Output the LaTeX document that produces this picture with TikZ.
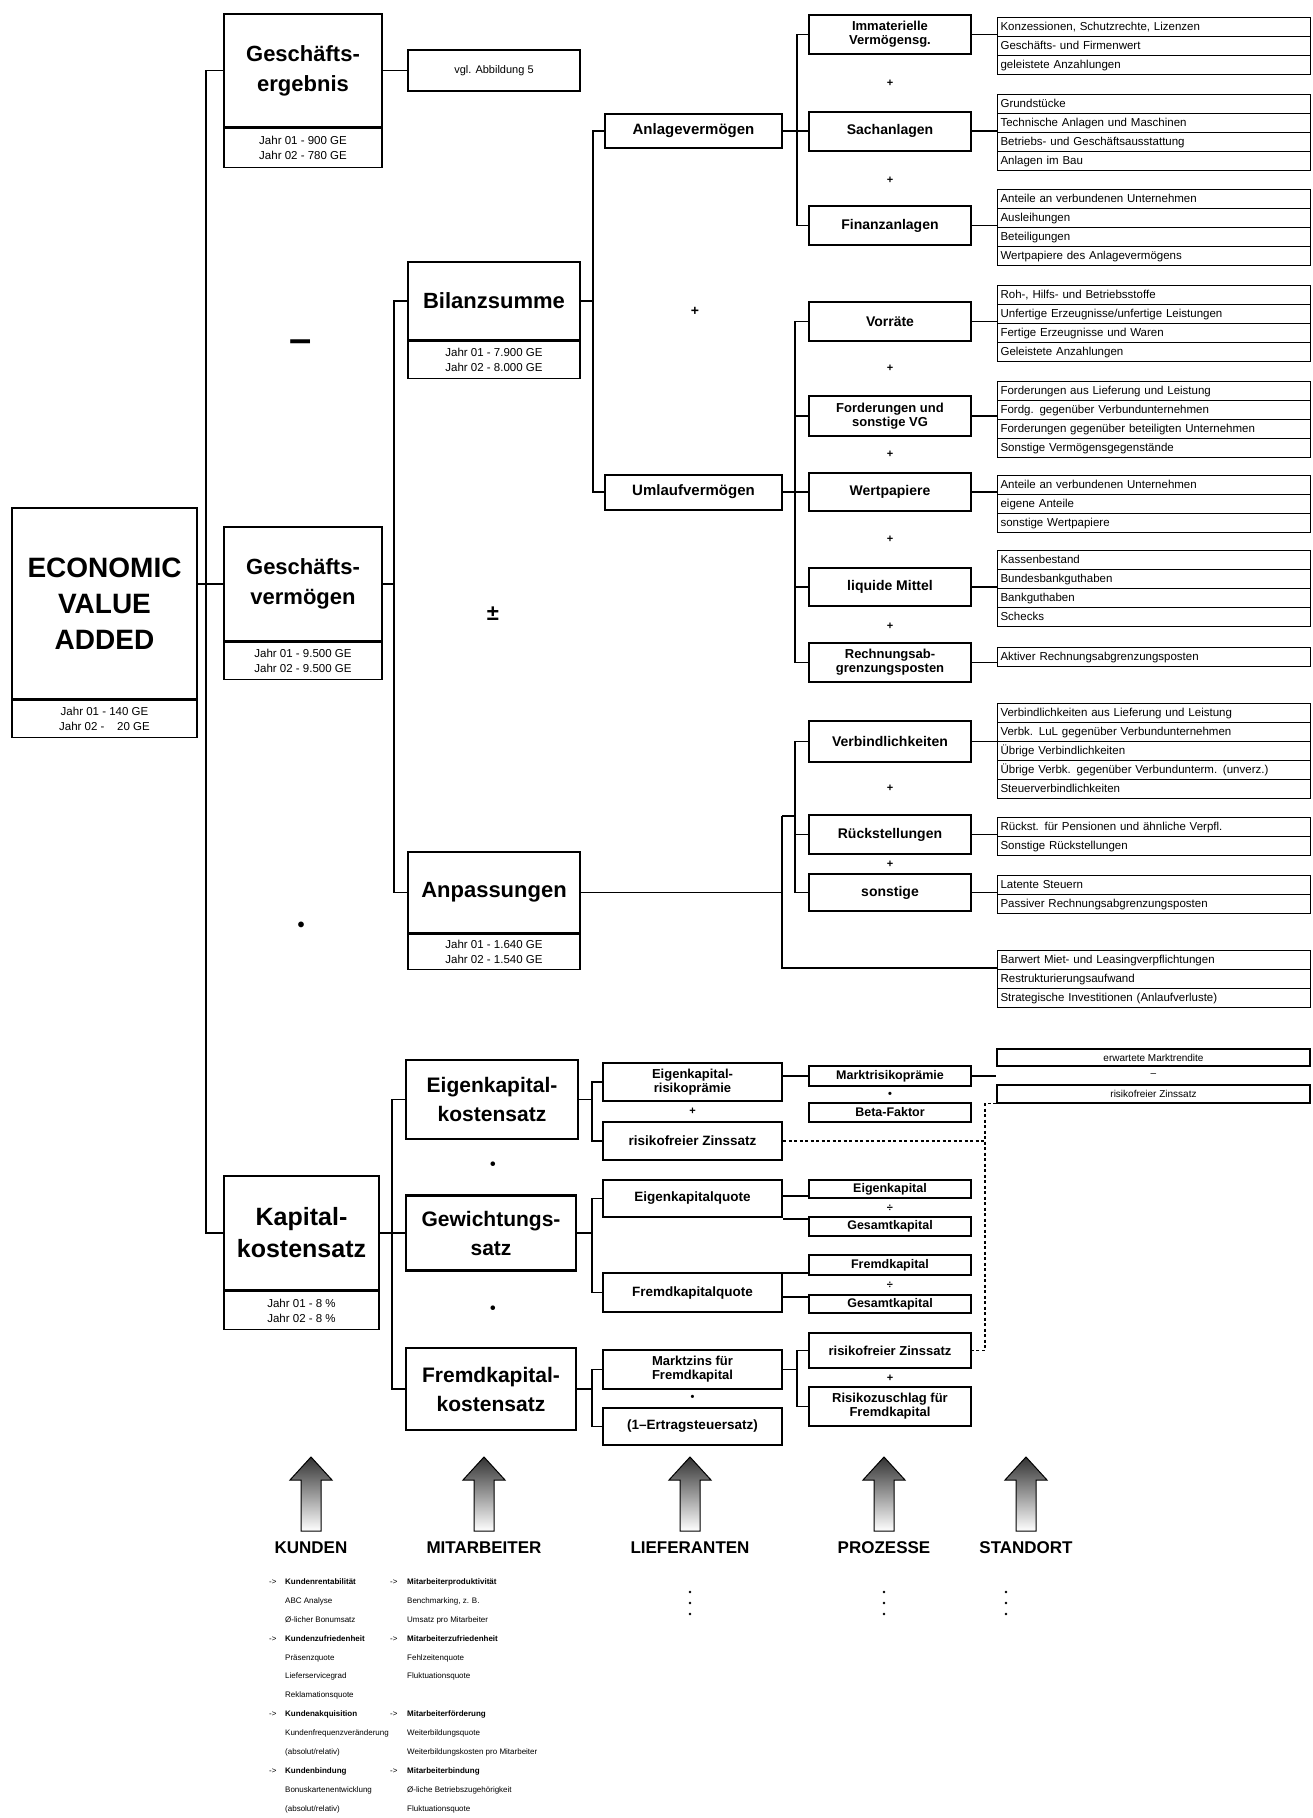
\documentclass[tikz,border=0pt]{standalone}
\usepackage{fontspec}
\setmainfont{Liberation Sans}
\newcommand\rowlist[4]{%
  \foreach \lbl [count=\rk] in {#4}{\node[lrow] (#1-\rk) at (#2,{#3+(\rk-1)*19}) {\lbl};}}
\begin{document}
\begin{tikzpicture}[x=1pt,y=-1pt,
  conn/.style={line width=1.3pt},
  bigbox/.style={draw, line width=2.2pt, align=center, inner sep=2pt, font=\bfseries\fontsize{22}{30}\selectfont},
  valbox/.style={draw, line width=1.2pt, align=center, inner sep=0pt, anchor=north, font=\fontsize{11.5}{15}\selectfont},
  midbox/.style={draw, line width=2pt, align=center, inner sep=1pt, font=\bfseries\fontsize{15}{17}\selectfont},
  kbox/.style={draw, line width=2pt, align=center, inner sep=1pt, minimum width=179pt, font=\bfseries\fontsize{13.5}{15}\selectfont},
  itembox/.style={draw, line width=2pt, align=center, inner sep=1pt, minimum width=162pt, font=\bfseries\fontsize{14}{15}\selectfont},
  twoline/.style={font=\bfseries\fontsize{13}{14}\selectfont},
  smallbox/.style={draw, line width=1.8pt, align=center, inner sep=0pt, minimum width=162pt, font=\bfseries\fontsize{12.5}{13}\selectfont},
  lrow/.style={draw, line width=1.1pt, anchor=north west, inner xsep=3pt, inner ysep=0pt, text width=307pt, minimum height=19pt, text height=8.5pt, text depth=2.5pt, align=left, font=\fontsize{11.5}{12}\selectfont},
  thinbox/.style={draw, line width=1.2pt, align=center, inner sep=0pt, font=\fontsize{11}{12}\selectfont},
  rbox/.style={draw, line width=1.1pt, align=center, inner sep=0pt, minimum width=313pt, font=\fontsize{10}{11}\selectfont},
  opnode/.style={inner sep=0pt, font=\bfseries\fontsize{11}{11}\selectfont},
  lab/.style={inner sep=0pt, font=\bfseries\fontsize{17}{17}\selectfont},
  dashedline/.style={line width=1.2pt, dash pattern=on 3pt off 2.5pt},
  blist/.style={anchor=north west, inner sep=0pt, font=\fontsize{8}{18.9}\selectfont},
]
\fill[white] (0,0) rectangle (1312,1818);
\useasboundingbox (0,0) rectangle (1312,1818);

% ---------- level 1 / 2 ----------
\node[bigbox, font=\bfseries\fontsize{28}{36}\selectfont, minimum width=185pt, minimum height=191pt] (eva) at (104.5,603.5) {ECONOMIC\\VALUE\\ADDED};
\node[valbox, minimum width=185pt, minimum height=37pt] (evav) at (eva.south) {Jahr 01 - 140 GE\\Jahr 02 -\hspace{1.1em}20 GE};

\node[bigbox, minimum width=158pt, minimum height=113pt] (ge) at (303,70.5) {Geschäfts-\\ergebnis};
\node[valbox, minimum width=158pt, minimum height=39pt] (gev) at (ge.south) {Jahr 01 - 900 GE\\Jahr 02 - 780 GE};
\node[thinbox, minimum width=172pt, minimum height=41pt] (vgl) at (494,70.5) {vgl. Abbildung 5};

\node[bigbox, minimum width=158pt, minimum height=114pt] (gv) at (303,584) {Geschäfts-\\vermögen};
\node[valbox, minimum width=158pt, minimum height=37pt] (gvv) at (gv.south) {Jahr 01 - 9.500 GE\\Jahr 02 - 9.500 GE};

\node[bigbox, font=\bfseries\fontsize{25}{32}\selectfont, minimum width=155pt, minimum height=114pt] (kk) at (301.5,1233) {Kapital-\\kostensatz};
\node[valbox, minimum width=155pt, minimum height=38pt] (kkv) at (kk.south) {Jahr 01 - 8 \%\\Jahr 02 - 8 \%};

% ---------- level 3 ----------
\node[bigbox, minimum width=172pt, minimum height=78pt] (bs) at (494,301) {Bilanzsumme};
\node[valbox, minimum width=172pt, minimum height=37pt] (bsv) at (bs.south) {Jahr 01 - 7.900 GE\\Jahr 02 - 8.000 GE};
\node[bigbox, minimum width=172pt, minimum height=81pt] (ap) at (494,892.5) {Anpassungen};
\node[valbox, minimum width=172pt, minimum height=35pt] (apv) at (ap.south) {Jahr 01 - 1.640 GE\\Jahr 02 - 1.540 GE};

\node[bigbox, font=\bfseries\fontsize{21}{29}\selectfont, minimum width=172pt, minimum height=79pt] (eks) at (492,1099.5) {Eigenkapital-\\kostensatz};
\node[bigbox, font=\bfseries\fontsize{21}{29}\selectfont, minimum width=170pt, minimum height=75pt] (gws) at (491,1233) {Gewichtungs-\\satz};
\node[bigbox, font=\bfseries\fontsize{21}{29}\selectfont, minimum width=170pt, minimum height=82pt] (fks) at (491,1389) {Fremdkapital-\\kostensatz};

% ---------- level 4 ----------
\node[midbox, minimum width=177pt, minimum height=34pt] (av) at (693.5,131) {Anlagevermögen};
\node[midbox, minimum width=177pt, minimum height=35pt] (uv) at (693.5,492) {Umlaufvermögen};

\node[kbox, twoline, minimum height=38pt] (erp) at (692.5,1082) {Eigenkapital-\\risikoprämie};
\node[kbox, minimum height=38pt] (rzs) at (692.5,1141) {risikofreier Zinssatz};
\node[kbox, minimum height=37pt] (ekq) at (692.5,1198.5) {Eigenkapitalquote};
\node[kbox, minimum height=39pt] (fkq) at (692.5,1292.5) {Fremdkapitalquote};
\node[kbox, twoline, minimum height=39pt] (mzf) at (692.5,1369.5) {Marktzins für\\Fremdkapital};
\node[kbox, minimum height=37pt] (ets) at (692.5,1426.5) {(1–Ertragsteuersatz)};

% ---------- level 5 ----------
\node[itembox, twoline, minimum height=39pt] (immat) at (890,34.5) {Immaterielle\\Vermögensg.};
\node[itembox, minimum height=39pt] (sach) at (890,131) {Sachanlagen};
\node[itembox, minimum height=39pt] (finanz) at (890,225.5) {Finanzanlagen};
\node[itembox, minimum height=39pt] (vorr) at (890,321.5) {Vorräte};
\node[itembox, twoline, minimum height=40pt] (ford) at (890,416) {Forderungen und\\sonstige VG};
\node[itembox, minimum height=38pt] (wert) at (890,492) {Wertpapiere};
\node[itembox, minimum height=38pt] (liq) at (890,587) {liquide Mittel};
\node[itembox, twoline, minimum height=39pt] (rap) at (890,662.5) {Rechnungsab-\\grenzungsposten};
\node[itembox, minimum height=41pt] (verb) at (890,741.5) {Verbindlichkeiten};
\node[itembox, minimum height=39pt] (rueck) at (890,834.5) {Rückstellungen};
\node[itembox, minimum height=37pt] (sonst) at (890,892.5) {sonstige};

\node[smallbox, minimum height=20pt] (mrp) at (890,1076) {Marktrisikoprämie};
\node[smallbox, minimum height=19pt] (beta) at (890,1112.5) {Beta-Faktor};
\node[smallbox, minimum height=18pt] (ek) at (890,1189) {Eigenkapital};
\node[smallbox, minimum height=19pt] (gk1) at (890,1226.5) {Gesamtkapital};
\node[smallbox, minimum height=20pt] (fk) at (890,1265) {Fremdkapital};
\node[smallbox, minimum height=18pt] (gk2) at (890,1304) {Gesamtkapital};
\node[itembox, twoline, minimum height=35pt] (rzs2) at (890,1350.5) {risikofreier Zinssatz};
\node[itembox, twoline, minimum height=39pt] (rzfk) at (890,1406.5) {Risikozuschlag für\\Fremdkapital};

\node[rbox, minimum height=17pt] (emr) at (1153.5,1057.5) {erwartete Marktrendite};
\node[rbox, minimum height=18pt] (rzs3) at (1153.5,1094) {risikofreier Zinssatz};

% ---------- lists ----------
\rowlist{la}{997}{17}{{Konzessionen, Schutzrechte, Lizenzen},{Geschäfts- und Firmenwert},{geleistete Anzahlungen}}
\rowlist{lb}{997}{94}{{Grundstücke},{Technische Anlagen und Maschinen},{Betriebs- und Geschäftsausstattung},{Anlagen im Bau}}
\rowlist{lc}{997}{189}{{Anteile an verbundenen Unternehmen},{Ausleihungen},{Beteiligungen},{Wertpapiere des Anlagevermögens}}
\rowlist{ld}{997}{285}{{Roh-, Hilfs- und Betriebsstoffe},{Unfertige Erzeugnisse/unfertige Leistungen},{Fertige Erzeugnisse und Waren},{Geleistete Anzahlungen}}
\rowlist{le}{997}{381}{{Forderungen aus Lieferung und Leistung},{Fordg. gegenüber Verbundunternehmen},{Forderungen gegenüber beteiligten Unternehmen},{Sonstige Vermögensgegenstände}}
\rowlist{lf}{997}{475}{{Anteile an verbundenen Unternehmen},{eigene Anteile},{sonstige Wertpapiere}}
\rowlist{lg}{997}{550}{{Kassenbestand},{Bundesbankguthaben},{Bankguthaben},{Schecks}}
\rowlist{lh}{997}{647}{{Aktiver Rechnungsabgrenzungsposten}}
\rowlist{li}{997}{703}{{Verbindlichkeiten aus Lieferung und Leistung},{Verbk. LuL gegenüber Verbundunternehmen},{Übrige Verbindlichkeiten},{Übrige Verbk. gegenüber Verbundunterm. (unverz.)},{Steuerverbindlichkeiten}}
\rowlist{lj}{997}{817}{{Rückst. für Pensionen und ähnliche Verpfl.},{Sonstige Rückstellungen}}
\rowlist{lk}{997}{875}{{Latente Steuern},{Passiver Rechnungsabgrenzungsposten}}
\rowlist{ll}{997}{950}{{Barwert Miet- und Leasingverpflichtungen},{Restrukturierungsaufwand},{Strategische Investitionen (Anlaufverluste)}}

% ---------- connectors ----------
\coordinate (t1) at (206,0);
\coordinate (t2) at (394,0);
\coordinate (t3) at (593,0);
\coordinate (t4) at (797,0);
\coordinate (t5) at (795,0);
\coordinate (t7) at (392,0);
\coordinate (t8) at (592,0);
\coordinate (dd) at (985,0);
\coordinate (a1) at (782,816);
\coordinate (a2) at (782,968);

\draw[conn] (ge.west) -- (ge.west -| t1) -- (kk.west -| t1) -- (kk.west);
\draw[conn] (eva.east |- gv.west) -- (gv.west);
\draw[conn] (ge.east) -- (vgl.west);

\draw[conn] (bs.west) -- (bs.west -| t2) -- (ap.west -| t2) -- (ap.west);
\draw[conn] (gv.east) -- (gv.east -| t2);

\draw[conn] (av.west) -- (av.west -| t3) -- (uv.west -| t3) -- (uv.west);
\draw[conn] (bs.east) -- (bs.east -| t3);

\draw[conn] (immat.west) -- (immat.west -| t4) -- (finanz.west -| t4) -- (finanz.west);
\draw[conn] (av.east) -- (sach.west);

\draw[conn] (vorr.west) -- (vorr.west -| t5) -- (rap.west -| t5) -- (rap.west);
\draw[conn] (ford.west -| t5) -- (ford.west);
\draw[conn] (liq.west -| t5) -- (liq.west);
\draw[conn] (uv.east) -- (wert.west);

\draw[conn] (ap.east) -- (ap.east -| a1);
\draw[conn] (a1) -- (a2) -- (a2 -| ll-1.west);
\draw[conn] (a1) -- (a1 -| t5);
\draw[conn] (verb.west) -- (verb.west -| t5) -- (sonst.west -| t5) -- (sonst.west);
\draw[conn] (rueck.west -| t5) -- (rueck.west);

\draw[conn] (immat.east) -- (immat.east -| la-1.west);
\draw[conn] (sach.east) -- (sach.east -| lb-1.west);
\draw[conn] (finanz.east) -- (finanz.east -| lc-1.west);
\draw[conn] (vorr.east) -- (vorr.east -| ld-1.west);
\draw[conn] (ford.east) -- (ford.east -| le-1.west);
\draw[conn] (wert.east) -- (wert.east -| lf-1.west);
\draw[conn] (liq.east) -- (liq.east -| lg-1.west);
\draw[conn] (rap.east) -- (rap.east -| lh-1.west);
\draw[conn] (verb.east) -- (verb.east -| li-1.west);
\draw[conn] (rueck.east) -- (rueck.east -| lj-1.west);
\draw[conn] (sonst.east) -- (sonst.east -| lk-1.west);

\draw[conn] (eks.west) -- (eks.west -| t7) -- (fks.west -| t7) -- (fks.west);
\draw[conn] (kk.east) -- (gws.west);

\draw[conn] (erp.west) -- (erp.west -| t8) -- (rzs.west -| t8) -- (rzs.west);
\draw[conn] (eks.east) -- (eks.east -| t8);
\draw[conn] (ekq.west) -- (ekq.west -| t8) -- (fkq.west -| t8) -- (fkq.west);
\draw[conn] (gws.east) -- (gws.east -| t8);
\draw[conn] (mzf.west) -- (mzf.west -| t8) -- (ets.west -| t8) -- (ets.west);
\draw[conn] (fks.east) -- (fks.east -| t8);

\draw[conn] (rzs2.west) -- (rzs2.west -| t4) -- (rzfk.west -| t4) -- (rzfk.west);
\draw[conn] (mzf.east) -- (mzf.east -| t4);

\draw[conn] (erp.east |- mrp.west) -- (mrp.west);
\draw[conn] (mrp.east) -- (mrp.east -| emr.west);

\draw[conn] ([yshift=3pt]ek.south west) -- ([yshift=3pt]ek.south west -| ekq.east);
\draw[conn] ([yshift=-3pt]gk1.north west) -- ([yshift=-3pt]gk1.north west -| ekq.east);
\draw[conn] ([yshift=3pt]fk.south west) -- ([yshift=3pt]fk.south west -| fkq.east);
\draw[conn] ([yshift=-3pt]gk2.north west) -- ([yshift=-3pt]gk2.north west -| fkq.east);

\draw[dashedline] (rzs.east) -- (rzs.east -| dd);
\draw[dashedline] (rzs3.south west) -- (rzs3.south west -| dd) -- (rzs2.east -| dd) -- (rzs2.east);

% ---------- operators ----------
\node[opnode, font=\bfseries\fontsize{40}{40}\selectfont] (opa) at (301,346) {–};
\node[opnode, font=\bfseries\fontsize{22}{22}\selectfont] (opb) at (493,614) {±};
\node[opnode, font=\bfseries\fontsize{20}{20}\selectfont] (opc) at (301,927) {•};
\node[opnode, font=\bfseries\fontsize{14}{14}\selectfont] (opd) at (695,311) {+};
\node[opnode] (op1) at (890,83) {+};
\node[opnode] (op2) at (890,180) {+};
\node[opnode] (op3) at (890,368) {+};
\node[opnode] (op4) at (890,454) {+};
\node[opnode] (op5) at (890,539) {+};
\node[opnode] (op6) at (890,626) {+};
\node[opnode] (op7) at (890,788) {+};
\node[opnode] (op8) at (890,864) {+};
\node[opnode, font=\bfseries\fontsize{16}{16}\selectfont] (op9) at (493,1166) {•};
\node[opnode, font=\bfseries\fontsize{16}{16}\selectfont] (op10) at (493,1310) {•};
\node[opnode] (op11) at (692.5,1111.5) {+};
\node[opnode] (op12) at (692.5,1398) {•};
\node[opnode] (op13) at (890,1094.5) {•};
\node[opnode] (op14) at (890,1208) {÷};
\node[opnode] (op15) at (890,1285) {÷};
\node[opnode] (op16) at (890,1378) {+};
\node[opnode, font=\fontsize{10}{10}\selectfont] (op17) at (1153.5,1075.5) {–};

% ---------- driver arrows ----------
\foreach \ax in {311,484,690,884,1026}{
  \shadedraw[top color=black!80, bottom color=white, line width=1pt]
    (\ax-10,1531) -- (\ax-10,1480) -- (\ax-21,1480) -- (\ax,1457) -- (\ax+21,1480) -- (\ax+10,1480) -- (\ax+10,1531) -- cycle;
}
\node[lab] (kunden) at (311,1548) {KUNDEN};
\node[lab] (mitarb) at (484,1548) {MITARBEITER};
\node[lab] (liefer) at (690,1548) {LIEFERANTEN};
\node[lab] (proz) at (884,1548) {PROZESSE};
\node[lab] (stand) at (1026,1548) {STANDORT};

\foreach \dx in {690,884,1006}{
  \foreach \dy in {1592,1603,1614}{\fill (\dx,\dy) circle (1.4pt);}
}

\node[blist] (klist) at (269,1571) {\begin{tabular}{@{}p{16pt}@{}l@{}}
->&\textbf{Kundenrentabilität}\\
&ABC Analyse\\
&Ø-licher Bonumsatz\\
->&\textbf{Kundenzufriedenheit}\\
&Präsenzquote\\
&Lieferservicegrad\\
&Reklamationsquote\\
->&\textbf{Kundenakquisition}\\
&Kundenfrequenzveränderung\\
&(absolut/relativ)\\
->&\textbf{Kundenbindung}\\
&Bonuskartenentwicklung\\
&(absolut/relativ)
\end{tabular}};

\node[blist] (mlist) at (390,1571) {\begin{tabular}{@{}p{17pt}@{}l@{}}
->&\textbf{Mitarbeiterproduktivität}\\
&Benchmarking, z. B.\\
&Umsatz pro Mitarbeiter\\
->&\textbf{Mitarbeiterzufriedenheit}\\
&Fehlzeitenquote\\
&Fluktuationsquote\\
&\\
->&\textbf{Mitarbeiterförderung}\\
&Weiterbildungsquote\\
&Weiterbildungskosten pro Mitarbeiter\\
->&\textbf{Mitarbeiterbindung}\\
&Ø-liche Betriebszugehörigkeit\\
&Fluktuationsquote
\end{tabular}};
\end{tikzpicture}
\end{document}
